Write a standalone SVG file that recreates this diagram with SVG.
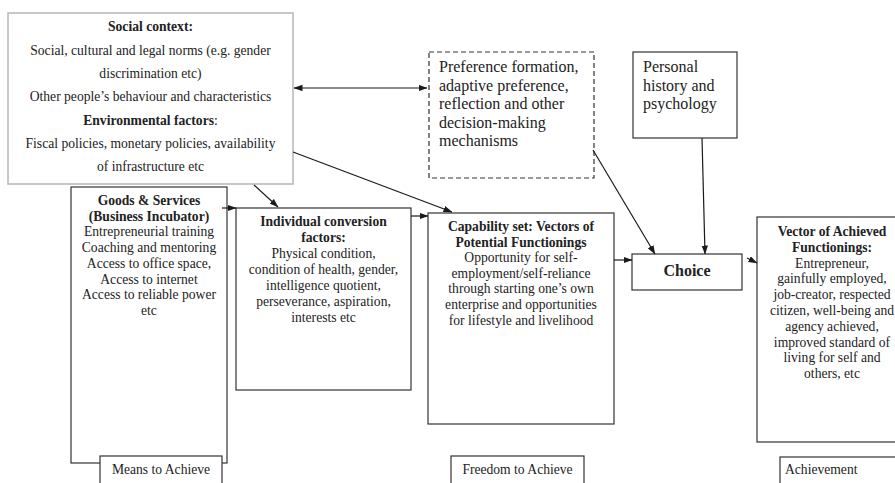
<svg xmlns="http://www.w3.org/2000/svg" width="895" height="483" viewBox="0 0 895 483">
<defs>
<marker id="ah" markerWidth="9" markerHeight="7" refX="8.5" refY="3.2" orient="auto-start-reverse" markerUnits="userSpaceOnUse">
<path d="M0,0 L9,3.2 L0,6.4 z" fill="#1a1a1a"/>
</marker>
</defs>
<style>
.box{fill:#fff;stroke:#333;stroke-width:1.2}
.soc{fill:#fff;stroke:#bbb;stroke-width:1.6}
.dash{fill:#fff;stroke:#333;stroke-width:1.2;stroke-dasharray:5,3}
.t{font-family:"Liberation Serif","Times New Roman",serif;font-size:13.6px;fill:#222;text-anchor:middle}
.b{font-weight:bold}
.big{font-family:"Liberation Serif","Times New Roman",serif;font-size:16px;fill:#222}
.lbl{font-family:"Liberation Serif","Times New Roman",serif;font-size:13.6px;fill:#222}
.c{stroke:#1a1a1a;stroke-width:1.2;fill:none;marker-end:url(#ah)}
</style>
<rect width="895" height="483" fill="#fff"/>

<g id="goods">
<rect class="box" x="71" y="187" width="156" height="276"/>
<text class="t b" x="149" y="205">Goods &amp; Services</text>
<text class="t b" x="149" y="220.7">(Business Incubator)</text>
<text class="t" x="149" y="236.4">Entrepreneurial training</text>
<text class="t" x="149" y="252.1">Coaching and mentoring</text>
<text class="t" x="149" y="267.8">Access to office space,</text>
<text class="t" x="149" y="283.5">Access to internet</text>
<text class="t" x="149" y="299.2">Access to reliable power</text>
<text class="t" x="149" y="314.9">etc</text>
</g>

<g id="social">
<rect class="soc" x="8" y="13" width="285" height="171"/>
<text class="t b" x="150.5" y="31">Social context:</text>
<text class="t" x="150.5" y="54.5">Social, cultural and legal norms (e.g. gender</text>
<text class="t" x="150.5" y="78">discrimination etc)</text>
<text class="t" x="150.5" y="101">Other people’s behaviour and characteristics</text>
<text class="t" x="150.5" y="124.5"><tspan class="b">Environmental factors</tspan>:</text>
<text class="t" x="150.5" y="148">Fiscal policies, monetary policies, availability</text>
<text class="t" x="150.5" y="171">of infrastructure etc</text>
</g>

<g id="means">
<rect class="box" x="100" y="456" width="122" height="40"/>
<text class="t" x="161" y="474">Means to Achieve</text>
</g>

<g id="individual">
<rect class="box" x="236" y="208" width="175" height="182"/>
<text class="t b" x="323.5" y="226">Individual conversion</text>
<text class="t b" x="323.5" y="242">factors:</text>
<text class="t" x="323.5" y="257.5">Physical condition,</text>
<text class="t" x="323.5" y="273.5">condition of health, gender,</text>
<text class="t" x="323.5" y="289.5">intelligence quotient,</text>
<text class="t" x="323.5" y="305.5">perseverance, aspiration,</text>
<text class="t" x="323.5" y="321.5">interests etc</text>
</g>

<g id="capability">
<rect class="box" x="428" y="213" width="186" height="211"/>
<text class="t b" x="521" y="231">Capability set: Vectors of</text>
<text class="t b" x="521" y="247">Potential Functionings</text>
<text class="t" x="521" y="262">Opportunity for self-</text>
<text class="t" x="521" y="277.7">employment/self-reliance</text>
<text class="t" x="521" y="293.4">through starting one’s own</text>
<text class="t" x="521" y="309.1">enterprise and opportunities</text>
<text class="t" x="521" y="324.8">for lifestyle and livelihood</text>
</g>

<g id="freedom">
<rect class="box" x="451" y="456" width="133" height="40"/>
<text class="t" x="517.5" y="474">Freedom to Achieve</text>
</g>

<g id="preference">
<rect class="dash" x="429" y="52" width="165" height="126"/>
<text class="big" x="439" y="72">Preference formation,</text>
<text class="big" x="439" y="90.5">adaptive preference,</text>
<text class="big" x="439" y="109">reflection and other</text>
<text class="big" x="439" y="127.5">decision-making</text>
<text class="big" x="439" y="146">mechanisms</text>
</g>

<g id="personal">
<rect class="box" x="633" y="52" width="104" height="86"/>
<text class="big" x="643" y="72">Personal</text>
<text class="big" x="643" y="90.5">history and</text>
<text class="big" x="643" y="109">psychology</text>
</g>

<g id="choice">
<rect class="box" x="632" y="254" width="110" height="36"/>
<text class="big b" x="687" y="276" text-anchor="middle">Choice</text>
</g>

<g id="vector">
<rect class="box" x="757" y="217" width="150" height="225"/>
<text class="t b" x="832" y="236">Vector of Achieved</text>
<text class="t b" x="832" y="252">Functionings:</text>
<text class="t" x="832" y="267.5">Entrepreneur,</text>
<text class="t" x="832" y="283.3">gainfully employed,</text>
<text class="t" x="832" y="299.1">job-creator, respected</text>
<text class="t" x="832" y="314.9">citizen, well-being and</text>
<text class="t" x="832" y="330.7">agency achieved,</text>
<text class="t" x="832" y="346.5">improved standard of</text>
<text class="t" x="832" y="362.3">living for self and</text>
<text class="t" x="832" y="378.1">others, etc</text>
</g>

<g id="achievement">
<rect class="box" x="780" y="457" width="130" height="40"/>
<text class="lbl" x="785" y="474">Achievement</text>
</g>

<g id="connectors">
<line class="c" x1="294" y1="88" x2="427" y2="88" marker-start="url(#ah)"/>
<line class="c" x1="254" y1="185" x2="278" y2="207"/>
<line class="c" x1="293" y1="152" x2="452" y2="212"/>
<line class="c" x1="222" y1="208" x2="236" y2="208"/>
<line class="c" x1="411" y1="216" x2="428" y2="216"/>
<line class="c" x1="614" y1="260" x2="632" y2="260"/>
<line class="c" x1="593" y1="150" x2="655" y2="254"/>
<line class="c" x1="702" y1="138" x2="705" y2="254"/>
<line class="c" x1="747" y1="258" x2="757" y2="263"/>
</g>
</svg>
